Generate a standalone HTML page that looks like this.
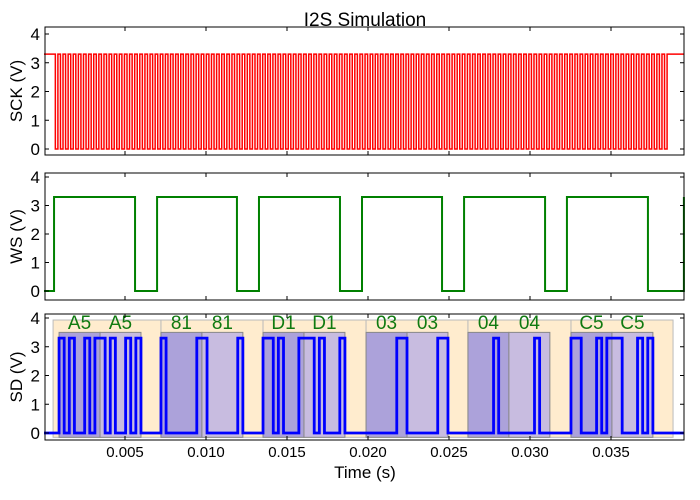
<!DOCTYPE html>
<html><head><meta charset="utf-8"><style>
body{margin:0;background:#fff}
svg{display:block;font-family:"Liberation Sans","DejaVu Sans",sans-serif}
</style></head><body>
<svg id="c" width="700" height="500" viewBox="0 0 700 500"></svg>
<script>
const xTicks=[0.005,0.010,0.015,0.020,0.025,0.030,0.035];
const xTickLabels=["0.005","0.010","0.015","0.020","0.025","0.030","0.035"];
const yTicks=[0,1,2,3,4];
const panelNames=["SCK (V)","WS (V)","SD (V)"];
const vHigh=3.3;
const sckStart=0.00070, sckPeriod=0.000316, sckEnd=0.0388;
const wsLowStarts=[0,0.00562,0.01191,0.01827,0.02457,0.03093,0.03728];
const wsLowEnds=[0.00062,0.00698,0.01327,0.01963,0.02593,0.03228,0.0395];
const frameStarts=[0.00056,0.00722,0.01352,0.01988,0.02617,0.03253];
const frameEnds=[0.00722,0.01352,0.01988,0.02617,0.03253,0.03883];
const wordStarts=[0.00093,0.00722,0.01352,0.01988,0.02617,0.03253];
const frameBytes=["A5","81","D1","03","04","C5"];
const bitPeriod=0.000316;

const svg=document.getElementById('c');const NS='http://www.w3.org/2000/svg';
function mk(t,a,p){const e=document.createElementNS(NS,t);for(const k in a)e.setAttribute(k,a[k]);(p||svg).appendChild(e);return e;}
const X0=45,X1=684;const xs=t=>44+t*16200;
const panels=[{top:27,bot:155,y4:34,y0:149},{top:173,bot:300,y4:177,y0:291},{top:314,bot:440,y4:318,y0:433}];
function ys(p,v){return p.y0+(p.y4-p.y0)*v/4;}
mk('text',{x:365,y:26,'text-anchor':'middle','font-size':19,}).textContent='I2S Simulation';
const P3=panels[2];
frameStarts.forEach((s,i)=>{
 const g=mk('g',{});
 
 
 mk('rect',{x:xs(s),y:ys(P3,3.93),width:xs(frameEnds[i])-xs(s),height:ys(P3,-0.15)-ys(P3,3.93),fill:'#ffecce',stroke:'#bbb','stroke-width':1},g);
 for(let w=0;w<2;w++){
  const a=wordStarts[i]+w*8*bitPeriod;
  mk('rect',{x:xs(a),y:ys(P3,3.5),width:8*bitPeriod*16200,height:ys(P3,-0.15)-ys(P3,3.5),fill:w?'#c8bce0':'#aca2da',stroke:'#888','stroke-width':1},g);
  const tx=mk('text',{x:xs(a+4*bitPeriod),y:329,'text-anchor':'middle','font-size':19,fill:'#107a10'},g);
  
  
  tx.textContent=frameBytes[i];
 }
});
let p0=panels[0];let d=`M${xs(0)},${ys(p0,vHigh)}`;
for(let t=sckStart;t+sckPeriod<=sckEnd;t+=sckPeriod){d+=`L${xs(t)},${ys(p0,vHigh)}L${xs(t)},${ys(p0,0)}L${xs(t+sckPeriod/2)},${ys(p0,0)}L${xs(t+sckPeriod/2)},${ys(p0,vHigh)}`;}
d+=`L${xs(0.0395)},${ys(p0,vHigh)}`;
const sck=mk('path',{d,fill:'none',stroke:'#f00','stroke-width':1.5});

let p1=panels[1];d='';
wsLowStarts.forEach((s,i)=>{d+=(i?'L':'M')+`${xs(s)},${ys(p1,i?vHigh:0)}L${xs(s)},${ys(p1,0)}L${xs(wsLowEnds[i])},${ys(p1,0)}L${xs(wsLowEnds[i])},${ys(p1,vHigh)}`;});
const ws=mk('path',{d,fill:'none',stroke:'#008000','stroke-width':2});

d=`M${xs(0)},${ys(P3,0)}`;let cur=0;
frameStarts.forEach((s,i)=>{
 const b=parseInt(frameBytes[i],16);
 for(let w=0;w<2;w++)for(let k=0;k<8;k++){
  const t=wordStarts[i]+(w*8+k)*bitPeriod;const v=(b>>(7-k))&1?vHigh:0;
  if(v!==cur){d+=`L${xs(t)},${ys(P3,cur)}L${xs(t)},${ys(P3,v)}`;cur=v;}
 }
 const te=wordStarts[i]+16*bitPeriod;
 if(cur!==0){d+=`L${xs(te)},${ys(P3,cur)}L${xs(te)},${ys(P3,0)}`;cur=0;}
});
d+=`L${xs(0.0395)},${ys(P3,0)}`;
const sd=mk('path',{d,fill:'none',stroke:'#00f','stroke-width':2.8});

panels.forEach((p,i)=>{
 const f=mk('rect',{x:X0,y:p.top,width:X1-X0,height:p.bot-p.top,fill:'none',stroke:'#000','stroke-width':1});
 
 yTicks.forEach(v=>{const y=ys(p,v);
  mk('line',{x1:X0,x2:X0+4,y1:y,y2:y,stroke:'#000'});mk('line',{x1:X1-4,x2:X1,y1:y,y2:y,stroke:'#000'});
  const t=mk('text',{x:X0-5,y:y+6,'text-anchor':'end','font-size':17});
  t.textContent=v;});
 xTicks.forEach((v,j)=>{const x=xs(v);
  mk('line',{x1:x,x2:x,y1:p.bot,y2:p.bot-4,stroke:'#000'});mk('line',{x1:x,x2:x,y1:p.top,y2:p.top+4,stroke:'#000'});
  if(i===2){const t=mk('text',{x,y:p.bot+17,'text-anchor':'middle','font-size':15});
   t.textContent=xTickLabels[j];}});
 const cy=(p.top+p.bot)/2;
 const yl=mk('text',{x:22,y:cy,'text-anchor':'middle','font-size':17,transform:`rotate(-90 22 ${cy})`});
 yl.textContent=panelNames[i];
});
const xl=mk('text',{x:365,y:478,'text-anchor':'middle','font-size':17});
xl.textContent='Time (s)';
</script>
</body></html>
